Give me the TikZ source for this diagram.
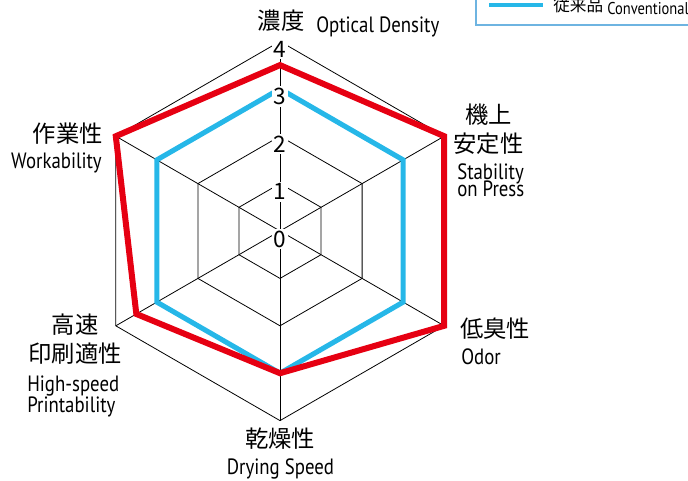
\documentclass[tikz,border=0pt]{standalone}
\usepackage{fontspec}
\newfontfamily\jpfont{Noto Sans CJK JP}
\newfontfamily\enfont[FakeStretch=0.85]{PT Sans}
\definecolor{newred}{RGB}{230,0,18}
\definecolor{oldblue}{RGB}{38,183,232}
\definecolor{legendframe}{RGB}{110,180,225}
\newcommand{\jptext}{\jpfont\fontsize{17.5}{21}\selectfont}
\newcommand{\entext}{\enfont\fontsize{16.6}{18}\selectfont}
\tikzset{
  gridline/.style={draw=black, line width=0.6pt},
  newline/.style={draw=newred, line width=4.5pt, line join=miter},
  oldline/.style={draw=oldblue, line width=3.8pt, line join=miter},
  scalelabel/.style={fill=white, inner sep=1.5pt, font=\jpfont\fontsize{17}{17}\selectfont},
  jplabel/.style={inner sep=0pt, font=\jptext},
  enlabel/.style={inner sep=0pt, font=\entext},
}
\begin{document}
\begin{tikzpicture}[x=0.75pt,y=0.75pt,yscale=-1,xscale=1]
\useasboundingbox (0,0) rectangle (688,480);
\clip (0,0) rectangle (688,480);

\begin{scope}[shift={(280,231)}]
%Center and axis ends
\coordinate (c) at (0,0);
\foreach \a [count=\i] in {-90,-30,30,90,150,210}
  \coordinate (ax\i) at (\a:189.6);
%Grid rings
\foreach \k in {1,...,4}
  \draw[gridline] (-90:\k*47.4) -- (-30:\k*47.4) -- (30:\k*47.4) -- (90:\k*47.4) -- (150:\k*47.4) -- (210:\k*47.4) -- cycle;
%Spokes
\foreach \i in {1,...,6}
  \draw[gridline] (c) -- (ax\i);

%Conventional values
\foreach \a/\v [count=\i] in {-90/3,-30/3,30/3,90/3,150/3,210/3}
  \coordinate (old\i) at (\a:\v*47.4);
\draw[oldline] (old1) -- (old2) -- (old3) -- (old4) -- (old5) -- (old6) -- cycle;
%New product values
\foreach \a/\v [count=\i] in {-90/3.5,-30/4,30/4,90/3,150/3.5,210/4}
  \coordinate (new\i) at (\a:\v*47.4);
\draw[newline] (new1) -- (new2) -- (new3) -- (new4) -- (new5) -- (new6) -- cycle;

%Scale numbers
\foreach \k in {0,...,4}
  \node[scalelabel] (lvl\k) at (0,-\k*47.4+8) {\k};
\end{scope}

% Text Node
\node[jplabel] (dens-jp) at (281,21) {濃度};
\node[enlabel, anchor=base west] (dens-en) at (316,32) {Optical Density};
% Text Node
\node[jplabel] (stab-jp1) at (488.5,115) {機上};
\node[jplabel] (stab-jp2) at (488.5,143.5) {安定性};
\node[enlabel, anchor=base west] (stab-en1) at (457,179) {Stability};
\node[enlabel, anchor=base west] (stab-en2) at (457,196) {on Press};
% Text Node
\node[jplabel, anchor=west] (odor-jp) at (460,328.5) {低臭性};
\node[enlabel, anchor=base west] (odor-en) at (461,364) {Odor};
% Text Node
\node[jplabel] (dry-jp) at (280,439) {乾燥性};
\node[enlabel, anchor=base] (dry-en) at (280.5,474) {Drying Speed};
% Text Node
\node[jplabel] (print-jp1) at (75,325) {高速};
\node[jplabel] (print-jp2) at (75,353.5) {印刷適性};
\node[enlabel, anchor=base west] (print-en1) at (27,391) {High-speed};
\node[enlabel, anchor=base west] (print-en2) at (27,412) {Printability};
% Text Node
\node[jplabel, anchor=east] (work-jp) at (103,133.5) {作業性};
\node[enlabel, anchor=base east] (work-en) at (102,168) {Workability};

%Legend
\draw[legendframe, line width=1pt] (476,-10) rectangle (720,25);
\coordinate (key-a) at (489,5);
\coordinate (key-b) at (543,5);
\draw[draw=oldblue, line width=3pt] (key-a) -- (key-b);
\node[inner sep=0pt, anchor=west, font=\jpfont\fontsize{12.5}{15}\selectfont] (key-jp) at (553,5) {従来品};
\node[inner sep=0pt, anchor=base west, font=\enfont\fontsize{12.8}{14}\selectfont] (key-en) at (607,14) {Conventional};

\end{tikzpicture}
\end{document}
